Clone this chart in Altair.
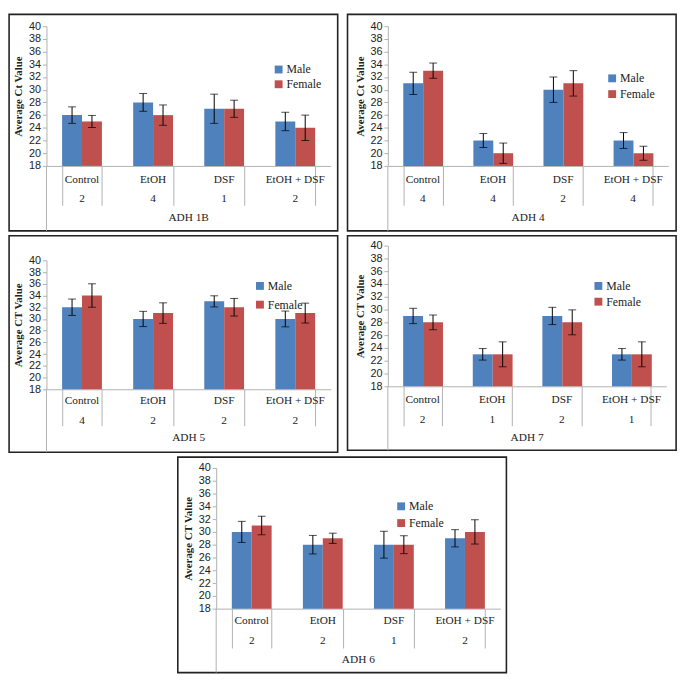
import altair as alt
import pandas as pd

categories = ["Control", "EtOH", "DSF", "EtOH + DSF"]
sexes = ["Male", "Female"]
y_ticks = [18, 20, 22, 24, 26, 28, 30, 32, 34, 36, 38, 40]

adh1b_male = [26, 28, 27, 25]
adh1b_male_err = [1.3, 1.4, 2.3, 1.45]
adh1b_female = [25, 26, 27, 24]
adh1b_female_err = [0.95, 1.6, 1.35, 2.0]
adh1b_n = [2, 4, 1, 2]

adh4_male = [31, 22, 30, 22]
adh4_male_err = [1.75, 1.1, 2.0, 1.25]
adh4_female = [33, 20, 31, 20]
adh4_female_err = [1.2, 1.6, 2.0, 1.1]
adh4_n = [4, 4, 2, 4]

adh5_male = [32, 30, 33, 30]
adh5_male_err = [1.4, 1.3, 0.95, 1.35]
adh5_female = [34, 31, 32, 31]
adh5_female_err = [2.0, 1.75, 1.5, 1.7]
adh5_n = [4, 2, 2, 2]

adh7_male = [29, 23, 29, 23]
adh7_male_err = [1.2, 0.9, 1.35, 0.9]
adh7_female = [28, 23, 28, 23]
adh7_female_err = [1.15, 1.95, 1.95, 1.95]
adh7_n = [2, 1, 2, 1]

adh6_male = [30, 28, 28, 29]
adh6_male_err = [1.65, 1.45, 2.1, 1.35]
adh6_female = [31, 29, 28, 30]
adh6_female_err = [1.45, 0.8, 1.4, 1.9]
adh6_n = [2, 2, 1, 2]

BLUE = "#4F81BD"
RED = "#C0504D"
GRID = "#b0b0b0"
INK = "#222222"
SERIF = "Liberation Serif"
SANS = "Liberation Sans"


def panel(gene, ytitle, male, male_err, female, female_err, n, geo):
    L, T, W, H, R, B, ytop = geo["box"]
    legx, legy, rowpad = geo["legend"]
    c_off, n_off, g_off, tick_len = geo["labels"]
    rows = []
    for i, c in enumerate(categories):
        rows.append(dict(cat=c, sex="Male", value=male[i],
                         lo=male[i] - male_err[i], hi=male[i] + male_err[i]))
        rows.append(dict(cat=c, sex="Female", value=female[i],
                         lo=female[i] - female_err[i], hi=female[i] + female_err[i]))
    df = pd.DataFrame(rows)
    ndf = pd.DataFrame({"cat": categories, "n": [str(v) for v in n]})
    gdf = pd.DataFrame({"label": [gene]})
    one = pd.DataFrame({"k": [0]})

    xscale = alt.Scale(domain=categories, paddingInner=0.44, paddingOuter=0.22)
    yscale = alt.Scale(domain=[18, 40], nice=False, zero=False, range=[H, ytop])
    x = alt.X("cat:N", scale=xscale,
              axis=alt.Axis(labels=False, title=None, tickBand="extent",
                            tickSize=tick_len, tickColor=GRID, domainColor=GRID))
    xo = alt.XOffset("sex:N", scale=alt.Scale(domain=sexes, paddingInner=0, paddingOuter=0))
    yaxis = alt.Axis(values=y_ticks, tickCount=len(y_ticks), grid=False, title=ytitle,
                     titleFont=SERIF, titleFontSize=11, titleFontWeight="bold",
                     titleColor=INK, labelFont=SANS, labelFontSize=11, labelColor=INK,
                     labelOverlap=False, labelFlush=False,
                     tickSize=4, tickColor=GRID, domainColor=GRID,
                     labelPadding=2, titlePadding=5)
    color = alt.Color("sex:N", scale=alt.Scale(domain=sexes, range=[BLUE, RED]),
                      legend=alt.Legend(orient="none", legendX=legx, legendY=legy,
                                        title=None, symbolType="square", symbolSize=64,
                                        symbolStrokeWidth=0, labelFont=SERIF,
                                        labelFontSize=12, labelColor=INK,
                                        rowPadding=rowpad, labelOffset=2, padding=0))

    border = alt.Chart(one).mark_rect(fill="white", fillOpacity=0, stroke=INK,
                                      strokeWidth=1.6).encode(
        x=alt.value(-L), x2=alt.value(W + R), y=alt.value(-T), y2=alt.value(H + B))
    bars = alt.Chart(df).mark_bar().encode(
        x=x, xOffset=xo,
        y=alt.Y("value:Q", scale=yscale, axis=yaxis),
        y2=alt.datum(18),
        color=color)
    err = alt.Chart(df).mark_rule(color="black", strokeWidth=1).encode(
        x=x, xOffset=xo, y=alt.Y("lo:Q", scale=yscale), y2="hi:Q")
    cap_lo = alt.Chart(df).mark_tick(color="black", size=8, thickness=1,
                                     orient="horizontal").encode(
        x=x, xOffset=xo, y=alt.Y("lo:Q", scale=yscale))
    cap_hi = alt.Chart(df).mark_tick(color="black", size=8, thickness=1,
                                     orient="horizontal").encode(
        x=x, xOffset=xo, y=alt.Y("hi:Q", scale=yscale))
    cat_text = alt.Chart(ndf).mark_text(font=SERIF, fontSize=11.5, color=INK,
                                        baseline="middle").encode(
        x=x, y=alt.value(H + c_off), text="cat:N")
    n_text = alt.Chart(ndf).mark_text(font=SERIF, fontSize=11.5, color=INK,
                                      baseline="middle").encode(
        x=x, y=alt.value(H + n_off), text="n:N")
    g_text = alt.Chart(gdf).mark_text(font=SERIF, fontSize=11.5, color=INK,
                                      baseline="middle").encode(
        x=alt.value(W / 2), y=alt.value(H + g_off), text="label:N")
    ext = alt.Chart(one).mark_rule(color=GRID).encode(
        x=alt.value(0), y=alt.value(H), y2=alt.value(H + B))
    return alt.layer(border, bars, err, cap_lo, cap_hi, cat_text, n_text, g_text,
                     ext).properties(width=W, height=H)


# box: (left, top, width, height, right, bottom, y-range top) in px
geo1 = {"box": (38, 10, 289, 144, 7, 66, 2), "legend": (230, 40, 3), "labels": (14, 34, 53, 40)}
geo2 = {"box": (41, 10, 285, 144, 8, 66, 2), "legend": (222, 49, 4), "labels": (14, 34, 53, 40)}
geo3 = {"box": (38, 10, 289, 146, 7, 64, 15), "legend": (211, 35, 7), "labels": (12, 32, 50, 37)}
geo4 = {"box": (41, 10, 283, 143, 10, 65, 0), "legend": (208, 35, 4), "labels": (14, 34, 53, 40)}
geo5 = {"box": (39, 10, 289, 144, 6, 65, 1), "legend": (182, 34, 5), "labels": (13, 33, 52, 40)}

p1 = panel("ADH 1B", "Average Ct Value", adh1b_male, adh1b_male_err,
           adh1b_female, adh1b_female_err, adh1b_n, geo1)
p2 = panel("ADH 4", "Average Ct Value", adh4_male, adh4_male_err,
           adh4_female, adh4_female_err, adh4_n, geo2)
p3 = panel("ADH 5", "Average CT Value", adh5_male, adh5_male_err,
           adh5_female, adh5_female_err, adh5_n, geo3)
p4 = panel("ADH 7", "Average CT Value", adh7_male, adh7_male_err,
           adh7_female, adh7_female_err, adh7_n, geo4)
p5 = panel("ADH 6", "Average CT Value", adh6_male, adh6_male_err,
           adh6_female, adh6_female_err, adh6_n, geo5)

row1 = alt.hconcat(p1, p2, spacing=8).resolve_scale(color="independent").resolve_legend(color="independent")
row2 = alt.hconcat(p3, p4, spacing=8).resolve_scale(color="independent").resolve_legend(color="independent")

chart = alt.vconcat(row1, row2, p5, spacing=3, center=True).resolve_scale(
    color="independent").resolve_legend(color="independent").properties(
    padding={"left": 0, "top": 0, "right": 0, "bottom": 0}).configure_view(stroke=None)

chart.save("out.html", embed_options={"renderer": "svg", "actions": False})
